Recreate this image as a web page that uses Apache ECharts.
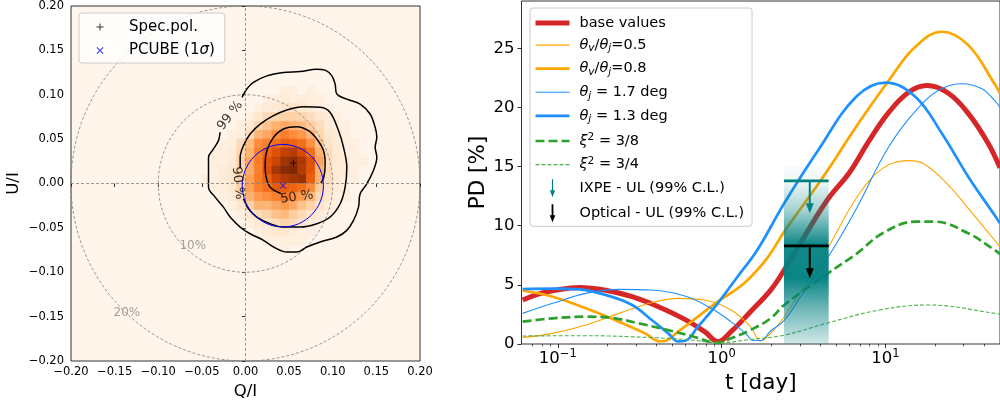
<!DOCTYPE html>
<html><head><meta charset="utf-8">
<script src="https://cdn.jsdelivr.net/npm/echarts@6/dist/echarts.min.js"></script>
<style>html,body{margin:0;padding:0;background:#fff}#c{width:1000px;height:406px}</style>
</head><body><div id="c"></div>
<script>
// ================= LEFT PANEL DATA (Q/I , U/I) =================
const heatQStart = -0.05;      // lower Q edge of first column
const heatUTop = 0.10;         // lower U edge of first (top) row
const binSize = 0.01;
// counts (0-100), rows from top (U=0.10..0.11) to bottom, cols from Q=-0.05
const heatCounts = [
 [0,0,0,0,0,0,0,0,0,5,5,0,5,0,0,0,0,0,0,0],
 [0,0,0,0,0,0,0,5,5,8,5,8,5,5,0,0,0,0,0,0],
 [0,0,0,0,0,0,5,8,10,12,14,12,8,5,5,0,0,0,0,0],
 [0,0,0,0,0,5,12,18,22,24,24,22,18,12,8,5,0,0,0,0],
 [0,0,0,0,5,10,22,30,36,40,36,33,26,18,10,5,5,0,0,0],
 [0,0,0,5,6,18,35,40,50,55,50,45,35,22,12,8,5,0,0,0],
 [0,0,5,5,18,32,50,55,60,66,64,60,48,30,14,8,5,5,0,0],
 [0,5,5,8,22,35,55,64,72,80,84,74,60,36,18,10,5,5,0,0],
 [0,5,5,10,24,40,56,70,78,89,94,86,72,42,18,10,8,5,5,0],
 [0,5,8,12,22,38,55,72,87,97,100,84,70,36,18,8,8,5,0,0],
 [5,5,8,12,26,42,56,66,78,84,88,92,66,36,18,10,5,5,0,0],
 [0,5,5,12,26,42,55,60,68,66,64,60,50,26,14,8,5,0,0,0],
 [0,0,5,8,18,36,45,50,55,58,50,45,35,20,12,5,5,0,0,0],
 [0,0,0,5,12,24,35,35,40,45,40,30,24,14,8,5,0,0,0,0],
 [0,0,0,0,5,12,18,24,30,34,26,20,14,8,5,0,0,0,0,0],
 [0,0,0,0,0,5,10,12,18,22,18,12,8,5,0,0,0,0,0,0],
 [0,0,0,0,0,0,5,8,10,12,8,5,5,0,0,0,0,0,0,0],
 [0,0,0,0,0,0,0,5,5,5,5,5,0,0,0,0,0,0,0,0],
 [0,0,0,0,0,0,0,0,0,5,0,0,0,0,0,0,0,0,0,0]
];
const specPol = [[0.055, 0.023]];
const pcubeCenter = [[0.0428, -0.0025]];
const pcubeRadius = [0.0465];
const pdCircleRadii = [0.10, 0.20];
const pdCircleLabels = [{text:'10%', q:-0.0604, u:-0.0708}, {text:'20%', q:-0.136, u:-0.1457}];
const contour99 = [[-0.004,0.097],[0.0015,0.1064],[0.009,0.1139],[0.0245,0.1213],[0.0436,0.1251],[0.0626,0.1262],[0.0817,0.1288],[0.0913,0.1277],[0.099,0.1213],[0.1027,0.112],[0.1047,0.1008],[0.1161,0.0951],[0.1314,0.0895],[0.1428,0.0783],[0.1486,0.0633],[0.1505,0.0521],[0.1486,0.0408],[0.1505,0.0296],[0.1466,0.0146],[0.139,-0.0004],[0.1314,-0.0116],[0.1295,-0.0266],[0.1238,-0.0416],[0.1161,-0.0528],[0.1047,-0.0603],[0.0856,-0.0659],[0.0703,-0.0715],[0.0589,-0.0772],[0.0474,-0.0772],[0.0321,-0.0715],[0.0206,-0.064],[0.0053,-0.0566],[-0.0061,-0.0491],[-0.0176,-0.0378],[-0.0253,-0.0266],[-0.0348,-0.0154],[-0.0424,-0.0041],[-0.0424,0.0109],[-0.0424,0.0296],[-0.0367,0.039],[-0.031,0.0483],[-0.0291,0.0577]];
const contour90 = [[-0.0061,0.0176],[-0.0061,0.0296],[-0.0023,0.0427],[0.0053,0.0558],[0.0168,0.067],[0.0321,0.0764],[0.0474,0.0828],[0.0664,0.0865],[0.0856,0.0858],[0.097,0.0801],[0.1066,0.0596],[0.1123,0.0408],[0.1161,0.0184],[0.1142,-0.0041],[0.1085,-0.0228],[0.097,-0.0378],[0.0818,-0.0453],[0.0626,-0.0491],[0.0435,-0.0491],[0.0283,-0.0453],[0.013,-0.0378],[0.0034,-0.0285],[-0.0023,-0.0172]];
const contour50 = [[0.0405,-0.0112],[0.0283,-0.0041],[0.0237,0.0071],[0.0225,0.0221],[0.0245,0.0371],[0.0321,0.052],[0.0435,0.0614],[0.0588,0.064],[0.0722,0.0596],[0.0817,0.0502],[0.0894,0.0371],[0.0913,0.0221],[0.0898,0.0071],[0.0865,0.0005]];
const contourLabels = [{text:'99 %', q:-0.0176, u:0.0764}, {text:'90 %', q:-0.0088, u:0.0005}, {text:'50 %', q:0.0588, u:-0.0154}];
const contourLabelAngles = [52, -84, 8];

// ================= RIGHT PANEL DATA (t [day], PD [%]) =================
const xMajorTicks = [0.1, 1, 10];
const xMinorTicks = [0.07,0.08,0.09,0.2,0.3,0.4,0.5,0.6,0.7,0.8,0.9,2,3,4,5,6,7,8,9,20,30,40];
const yTicks = [0, 5, 10, 15, 20, 25];
const baseValues = [[0.061,3.72],[0.075,4.2],[0.093,4.5],[0.135,4.78],[0.196,4.55],[0.284,4.0],[0.411,3.15],[0.596,2.08],[0.787,1.04],[0.95,0.2],[1.14,1.04],[1.5,2.73],[1.99,4.56],[2.41,6.26],[3.3,9.4],[4.48,12.3],[6.03,14.5],[7.95,17.2],[10.5,19.6],[13.9,21.3],[17.9,21.85],[24.2,21.2],[32,19.5],[42.2,17.0],[50,14.9]];
const thetaRatio05 = [[0.061,0.56],[0.093,0.9],[0.148,1.6],[0.236,2.59],[0.374,3.49],[0.542,3.86],[0.787,3.72],[1.14,2.87],[1.5,1.46],[1.73,0.25],[1.99,0.9],[2.41,2.3],[4.48,8.2],[6.62,12.3],[9.6,14.85],[13.9,15.5],[17.3,15.2],[24.2,13.44],[32,11.47],[46.3,8.79],[50,8.2]];
const thetaRatio08 = [[0.061,4.5],[0.093,4.0],[0.148,3.02],[0.236,1.89],[0.341,0.9],[0.42,0.22],[0.45,0.25],[0.542,1.04],[0.716,2.31],[0.946,3.58],[1.37,5.13],[1.89,7.24],[2.41,9.5],[4.17,14.14],[6.62,18.37],[10.5,22.3],[15.2,25.13],[22.1,26.4],[32,25.27],[46.3,22.0],[50,21.2]];
const thetaJ17 = [[0.061,2.59],[0.093,3.44],[0.148,4.28],[0.236,4.62],[0.374,4.56],[0.596,4.06],[0.862,3.02],[1.14,1.89],[1.43,0.76],[1.54,0.3],[1.73,0.3],[1.99,1.1],[2.41,2.0],[3.16,4.4],[4.48,7.4],[6.62,11.4],[10.5,16.7],[16.7,20.3],[22.1,21.6],[29.2,22.0],[38.5,21.6],[46.3,20.6],[50,20.0]];
const thetaJ13 = [[0.061,4.65],[0.093,4.68],[0.135,4.62],[0.196,4.14],[0.284,3.3],[0.374,2.03],[0.472,0.9],[0.542,0.22],[0.606,0.3],[0.716,1.46],[0.946,3.44],[1.25,5.69],[1.65,7.95],[2.41,11.9],[3.89,16.4],[6.62,20.9],[10,22.1],[15.2,20.9],[22.1,17.8],[32,14.14],[46.3,10.9],[50,10.2]];
const xi38 = [[0.061,1.89],[0.093,2.17],[0.148,2.31],[0.215,2.2],[0.311,1.75],[0.45,1.24],[0.653,0.68],[0.95,0.1],[1.14,0.48],[1.5,1.18],[1.99,2.17],[2.41,3.3],[4.48,6.0],[6.62,7.6],[9.6,9.36],[15.2,10.34],[20,10.34],[32,9.36],[46.3,7.95],[50,7.6]];
const xi34 = [[0.061,0.68],[0.148,0.7],[0.374,0.54],[0.65,0.34],[0.95,0.1],[1.5,0.39],[2.41,0.75],[4.48,1.8],[9.15,2.87],[18.3,3.3],[46.3,2.6],[50,2.5]];
// observation window [t start, t end, top of band PD]
const obsWindow = [[2.4, 4.5, 15.1]];
// upper limits: [t start, t end, t centre, PD UL]
const ixpeUL = [[2.4, 4.5, 3.45, 13.8]];
const opticalUL = [[2.4, 4.5, 3.45, 8.3]];

// ================= BUILD =================
const FF = 'DejaVu Sans';
const heatData = [];
heatCounts.forEach((row, r) => row.forEach((v, c) => {
  if (v > 0) heatData.push([heatQStart + c * binSize, heatUTop - r * binSize, v]);
}));
const fmtQU = v => (v < -1e-9 ? '\u2212' : '') + Math.abs(v).toFixed(2);

const chart = echarts.init(document.getElementById('c'), null, {renderer: 'canvas'});

function lineSeries(name, data, color, width, type, z) {
  return {name, type:'line', xAxisIndex:1, yAxisIndex:1, data, showSymbol:false, symbol:'none',
    smooth:0.4, z: z || 2, lineStyle:{color, width, type: type || 'solid', cap:'butt'}, itemStyle:{color}};
}
function ulRender(params, api) {
  const v = api.value(3);
  const a = api.coord([api.value(0), v]), b = api.coord([api.value(1), v]), c = api.coord([api.value(2), v]);
  const color = api.visual('color');
  const len = 32.5, headL = 10, headW = 4;
  return {type:'group', children:[
    {type:'line', shape:{x1:a[0], y1:a[1], x2:b[0], y2:b[1]}, style:{stroke:color, lineWidth:2.7}},
    {type:'line', shape:{x1:c[0], y1:c[1], x2:c[0], y2:c[1] + len - headL + 1}, style:{stroke:color, lineWidth:2}},
    {type:'polygon', shape:{points:[[c[0]-headW, c[1]+len-headL], [c[0]+headW, c[1]+len-headL], [c[0], c[1]+len]]}, style:{fill:color}}
  ]};
}

const plusPath = 'path://M3,0h1v7h-1z M0,3h7v1h-7z';
const crossPath = 'path://M0.7,0 L3.5,2.8 L6.3,0 L7,0.7 L4.2,3.5 L7,6.3 L6.3,7 L3.5,4.2 L0.7,7 L0,6.3 L2.8,3.5 L0,0.7 Z';
const plusIcon = 'path://M0,0 M28,16 M13.5,4.5h1v7h-1z M10.5,7.5h7v1h-7z';
const crossIcon = 'path://M0,0 M28,16 M11.2,5 L14,7.8 L16.8,5 L17.5,5.7 L14.7,8.5 L17.5,11.3 L16.8,12 L14,9.2 L11.2,12 L10.5,11.3 L13.3,8.5 L10.5,5.7 Z';
const arrowIconThin = 'path://M0,0 M34,18 M16.4,0 L17.6,0 L17.6,11 L19.6,11 L17,18 L14.4,11 L16.4,11 Z';
const arrowIconThick = 'path://M0,0 M34,18 M16.1,0 L17.9,0 L17.9,11 L19.8,11 L17,18 L14.2,11 L16.1,11 Z';

const legendLabel = {
  'base values': '{n|base values}',
  'θv/θj=0.5': '{it|θ}{sub|v}{n|/}{it|θ}{sub|j}{n|=0.5}',
  'θv/θj=0.8': '{it|θ}{sub|v}{n|/}{it|θ}{sub|j}{n|=0.8}',
  'θj = 1.7 deg': '{it|θ}{sub|j}{n| = 1.7 deg}',
  'θj = 1.3 deg': '{it|θ}{sub|j}{n| = 1.3 deg}',
  'ξ² = 3/8': '{it|ξ}{sup|2}{n| = 3/8}',
  'ξ² = 3/4': '{it|ξ}{sup|2}{n| = 3/4}',
  'IXPE - UL (99% C.L.)': '{n|IXPE - UL (99% C.L.)}',
  'Optical - UL (99% C.L.)': '{n|Optical - UL (99% C.L.)}',
  'Spec.pol.': '{n|Spec.pol.}',
  'PCUBE (1σ)': '{n|PCUBE (1}{it|σ}{n|)}'
};
const noSym = {opacity:0};

const option = {
  animation: false,
  textStyle: {fontFamily: FF},
  visualMap: {show:false, type:'continuous', seriesIndex:0, dimension:2, min:0, max:100,
    inRange:{color:['#fff5eb','#fee6ce','#fdd0a2','#fdae6b','#fd8d3c','#f16913','#d94801','#a63603','#7f2704']}},
  grid: [
    {left:71, top:5, width:349, height:356, show:true, backgroundColor:'#fff5eb', borderColor:'#000', borderWidth:0.8},
    {left:521.5, top:1, width:484, height:343, show:true, backgroundColor:'#fff', borderColor:'#000', borderWidth:0.8}
  ],
  xAxis: [
    {type:'value', gridIndex:0, min:-0.2, max:0.2, interval:0.05, name:'Q/I', nameLocation:'middle', nameGap:20,
     nameTextStyle:{fontSize:16.5, color:'#000', fontFamily:FF},
     axisLine:{show:false}, splitLine:{show:false},
     axisTick:{length:3.5, lineStyle:{color:'#000', width:0.8}},
     axisLabel:{fontSize:11.5, color:'#000', margin:5, formatter:fmtQU, fontFamily:FF}},
    {type:'log', logBase:10, gridIndex:1, min:0.06, max:50, name:'t [day]', nameLocation:'middle', nameGap:26,
     nameTextStyle:{fontSize:21.5, color:'#000', fontFamily:FF},
     axisLine:{show:false}, splitLine:{show:false}, minorTick:{show:false},
     axisTick:{length:4, lineStyle:{color:'#000', width:0.8}, customValues:xMajorTicks},
     axisLabel:{customValues:xMajorTicks, margin:4, color:'#000', fontFamily:FF,
       formatter: v => { const e = Math.round(Math.log10(v)); return '{b|10}{s|' + (e < 0 ? '\u2212' : '') + Math.abs(e) + '}'; },
       rich:{b:{fontSize:16.5, lineHeight:22, fontFamily:FF, color:'#000'}, s:{fontSize:11.5, lineHeight:11, verticalAlign:'top', fontFamily:FF, color:'#000'}}}},
    {type:'log', logBase:10, gridIndex:1, min:0.06, max:50, position:'bottom',
     axisLine:{show:false}, splitLine:{show:false}, axisLabel:{show:false},
     axisTick:{length:2.5, lineStyle:{color:'#000', width:0.6}, customValues:xMinorTicks}}
  ],
  yAxis: [
    {type:'value', gridIndex:0, min:-0.2, max:0.2, interval:0.05, name:'U/I', nameLocation:'middle', nameGap:49,
     nameTextStyle:{fontSize:16.5, color:'#000', fontFamily:FF},
     axisLine:{show:false}, splitLine:{show:false},
     axisTick:{length:3.5, lineStyle:{color:'#000', width:0.8}},
     axisLabel:{fontSize:11.5, color:'#000', margin:7, formatter:fmtQU, fontFamily:FF}},
    {type:'value', gridIndex:1, min:0, max:29, interval:5, name:'PD [%]', nameLocation:'middle', nameGap:31,
     nameTextStyle:{fontSize:21.5, color:'#000', fontFamily:FF},
     axisLine:{show:false}, splitLine:{show:false},
     axisTick:{length:4, lineStyle:{color:'#000', width:0.8}, customValues:yTicks},
     axisLabel:{fontSize:16.5, color:'#000', margin:7, fontFamily:FF, customValues:yTicks}}
  ],
  legend: [
    {left:79, top:13, orient:'vertical', itemWidth:28, itemHeight:16, itemGap:7, padding:[6,10,5,7],
     backgroundColor:'rgba(255,255,255,0.8)', borderColor:'#cccccc', borderWidth:1, borderRadius:3,
     selectedMode:false, formatter: n => legendLabel[n] || n,
     textStyle:{fontSize:15, color:'#000', padding:[0,0,0,10], fontFamily:FF,
       rich:{n:{fontSize:15, lineHeight:16, fontFamily:FF}, it:{fontSize:15, lineHeight:16, fontStyle:'italic', fontFamily:FF}}},
     data:[{name:'Spec.pol.', icon:plusIcon}, {name:'PCUBE (1σ)', icon:crossIcon}]},
    {left:530, top:8, orient:'vertical', itemWidth:34, itemHeight:18, itemGap:7.1, padding:[7.5,8,4,3],
     backgroundColor:'rgba(255,255,255,0.8)', borderColor:'#cccccc', borderWidth:1, borderRadius:3,
     selectedMode:false, formatter: n => legendLabel[n] || n,
     textStyle:{fontSize:14.5, color:'#000', padding:[0,0,0,5], fontFamily:FF,
       rich:{n:{fontSize:14.5, lineHeight:18, fontFamily:FF},
             it:{fontSize:14.5, lineHeight:18, fontStyle:'italic', fontFamily:FF},
             sub:{fontSize:10.5, lineHeight:10, verticalAlign:'bottom', fontStyle:'italic', fontFamily:FF},
             sup:{fontSize:10.5, lineHeight:10, verticalAlign:'top', fontFamily:FF}}},
     data:[
       {name:'base values', lineStyle:{width:5}, itemStyle:noSym},
       {name:'θv/θj=0.5', lineStyle:{width:1.1}, itemStyle:noSym},
       {name:'θv/θj=0.8', lineStyle:{width:2.7}, itemStyle:noSym},
       {name:'θj = 1.7 deg', lineStyle:{width:1.1}, itemStyle:noSym},
       {name:'θj = 1.3 deg', lineStyle:{width:2.7}, itemStyle:noSym},
       {name:'ξ² = 3/8', lineStyle:{width:2.7}, itemStyle:noSym},
       {name:'ξ² = 3/4', lineStyle:{width:1.3}, itemStyle:noSym},
       {name:'IXPE - UL (99% C.L.)', icon:arrowIconThin},
       {name:'Optical - UL (99% C.L.)', icon:arrowIconThick}
     ]}
  ],
  series: [
    // ---- left panel ----
    {type:'custom', name:'hist', xAxisIndex:0, yAxisIndex:0, data:heatData, z:1, silent:true,
     renderItem:(params, api) => {
       const p = api.coord([api.value(0), api.value(1) + binSize]);
       const s = api.size([binSize, binSize]);
       const col = api.visual('color');
       return {type:'rect', shape:{x:p[0], y:p[1], width:s[0], height:s[1]}, style:{fill:col, stroke:col, lineWidth:0.6}};
     }},
    {type:'custom', name:'pdCircles', xAxisIndex:0, yAxisIndex:0, data:pdCircleRadii.map(r => [0, 0, r]), z:2, silent:true,
     renderItem:(params, api) => {
       const c = api.coord([api.value(0), api.value(1)]);
       const s = api.size([api.value(2), api.value(2)]);
       return {type:'ellipse', shape:{cx:c[0], cy:c[1], rx:s[0], ry:s[1]}, style:{fill:null, stroke:'#808080', lineWidth:0.8, lineDash:[3,2]}};
     }},
    {type:'line', name:'refLines', xAxisIndex:0, yAxisIndex:0, data:[], z:2,
     markLine:{silent:true, symbol:'none', animation:false, label:{show:false},
       lineStyle:{color:'#808080', width:0.8, type:[3,2]}, data:[{xAxis:0}, {yAxis:0}]}},
    {type:'scatter', name:'pdLabels', xAxisIndex:0, yAxisIndex:0, symbolSize:0, z:3, silent:true,
     data: pdCircleLabels.map(d => ({value:[d.q, d.u], label:{formatter:d.text}})),
     label:{show:true, position:'inside', color:'#8a8a8a', fontSize:12, fontFamily:FF}},
    {type:'line', name:'c99', xAxisIndex:0, yAxisIndex:0, data:contour99, symbol:'none', smooth:0.35, z:4,
     lineStyle:{color:'#000', width:1.5}},
    {type:'line', name:'c90', xAxisIndex:0, yAxisIndex:0, data:contour90, symbol:'none', smooth:0.35, z:4,
     lineStyle:{color:'#000', width:1.5}},
    {type:'line', name:'c50', xAxisIndex:0, yAxisIndex:0, data:contour50, symbol:'none', smooth:0.35, z:4,
     lineStyle:{color:'#000', width:1.5}},
    {type:'scatter', name:'cLabels', xAxisIndex:0, yAxisIndex:0, symbolSize:0, z:5, silent:true,
     data: contourLabels.map((d, i) => ({value:[d.q, d.u], label:{formatter:d.text, rotate:contourLabelAngles[i]}})),
     label:{show:true, position:'inside', color:'#000', fontSize:13, fontFamily:FF}},
    {type:'custom', name:'pcubeCircle', xAxisIndex:0, yAxisIndex:0, z:5, silent:true,
     data: pcubeCenter.map((c, i) => [c[0], c[1], pcubeRadius[i]]),
     renderItem:(params, api) => {
       const c = api.coord([api.value(0), api.value(1)]);
       const s = api.size([api.value(2), api.value(2)]);
       return {type:'ellipse', shape:{cx:c[0], cy:c[1], rx:s[0], ry:s[1]}, style:{fill:null, stroke:'#0000ff', lineWidth:1}};
     }},
    {type:'scatter', name:'Spec.pol.', xAxisIndex:0, yAxisIndex:0, data:specPol, symbol:plusPath, symbolSize:7, z:6,
     itemStyle:{color:'#000'}},
    {type:'scatter', name:'PCUBE (1σ)', xAxisIndex:0, yAxisIndex:0, data:pcubeCenter, symbol:crossPath, symbolSize:6.5, z:6,
     itemStyle:{color:'#0000ff'}},
    // ---- right panel ----
    lineSeries('base values', baseValues, '#d62728', 5),
    lineSeries('θv/θj=0.5', thetaRatio05, '#ffa500', 1.1),
    lineSeries('θv/θj=0.8', thetaRatio08, '#ffa500', 2.7),
    lineSeries('θj = 1.7 deg', thetaJ17, '#1e90ff', 1.1),
    lineSeries('θj = 1.3 deg', thetaJ13, '#1e90ff', 2.7),
    lineSeries('ξ² = 3/8', xi38, '#2ca02c', 2.7, [9,4]),
    lineSeries('ξ² = 3/4', xi34, '#4fb04f', 1.1, [4,2]),
    {type:'custom', name:'window', xAxisIndex:1, yAxisIndex:1, data:obsWindow, z:3, silent:true,
     renderItem:(params, api) => {
       const p1 = api.coord([api.value(0), api.value(2)]);
       const p2 = api.coord([api.value(1), 0]);
       return {type:'rect', shape:{x:p1[0], y:p1[1], width:p2[0]-p1[0], height:p2[1]-p1[1]},
         style:{fill:{type:'linear', x:0, y:0, x2:0, y2:1, colorStops:[
           {offset:0, color:'rgba(0,128,128,0.02)'},
           {offset:0.09, color:'rgba(0,128,128,0.07)'},
           {offset:0.25, color:'rgba(0,128,128,0.35)'},
           {offset:0.44, color:'rgba(0,128,128,0.93)'},
           {offset:0.63, color:'rgba(0,128,128,0.96)'},
           {offset:0.81, color:'rgba(0,128,128,0.55)'},
           {offset:1, color:'rgba(0,128,128,0.18)'}]}}};
     }},
    {type:'custom', name:'IXPE - UL (99% C.L.)', xAxisIndex:1, yAxisIndex:1, data:ixpeUL, z:3, itemStyle:{color:'#008080'}, renderItem:ulRender},
    {type:'custom', name:'Optical - UL (99% C.L.)', xAxisIndex:1, yAxisIndex:1, data:opticalUL, z:3, itemStyle:{color:'#000000'}, renderItem:ulRender}
  ]
};
chart.setOption(option);
</script>
</body></html>
